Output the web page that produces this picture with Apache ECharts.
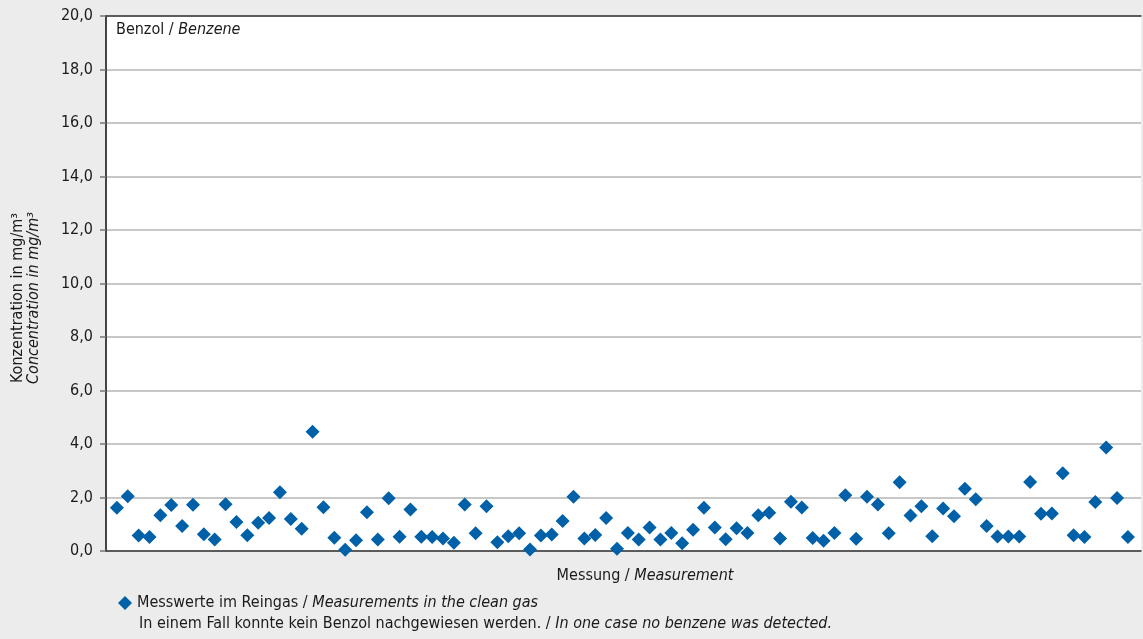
<!DOCTYPE html>
<html lang="de">
<head>
	<meta charset="UTF-8">
	<title>Benzol</title>
	<style>
       html, body { margin: 0; padding: 0; background: #ebeceb; }
       #chart_box { width: 1143px; height: 639px; }
	</style>
	<script type="text/javascript" src="https://cdn.jsdelivr.net/npm/echarts@6/dist/echarts.min.js"></script>
</head>
<body>
	<div id="chart_box"></div>
	<script type="text/javascript">
      var benzene_values = [
        1.62, 2.05, 0.58, 0.52, 1.34, 1.72, 0.93, 1.73, 0.63, 0.43,
        1.75, 1.08, 0.59, 1.06, 1.23, 2.20, 1.20, 0.83, 4.46, 1.64,
        0.50, 0.05, 0.40, 1.45, 0.43, 1.97, 0.53, 1.55, 0.53, 0.52,
        0.47, 0.31, 1.74, 0.66, 1.67, 0.33, 0.55, 0.66, 0.06, 0.58,
        0.62, 1.12, 2.03, 0.47, 0.60, 1.23, 0.08, 0.67, 0.43, 0.88,
        0.43, 0.67, 0.29, 0.79, 1.62, 0.88, 0.44, 0.85, 0.67, 1.34,
        1.43, 0.47, 1.84, 1.63, 0.49, 0.38, 0.67, 2.08, 0.46, 2.03,
        1.74, 0.66, 2.57, 1.33, 1.67, 0.55, 1.59, 1.30, 2.33, 1.93,
        0.93, 0.54, 0.54, 0.54, 2.58, 1.39, 1.40, 2.91, 0.59, 0.52,
        1.83, 3.87, 1.98, 0.52
      ];
      var y_ticks = [0, 2, 4, 6, 8, 10, 12, 14, 16, 18, 20];

      var FONT = '"Liberation Sans Narrow", "DejaVu Sans Condensed", sans-serif';

      var points = [];
      for (var i = 0; i < benzene_values.length; i++) {
        points.push([i + 1, benzene_values[i]]);   // Messung Nr. i+1
      }

      var chart = echarts.init(document.getElementById('chart_box'));
      var option = {
        backgroundColor: '#ebeceb',
        animation: false,
        grid: {
          left: 106, right: 2, top: 16, bottom: 88,
          show: true, backgroundColor: '#ffffff', borderWidth: 0
        },
        xAxis: [
          {
            type: 'value', min: 0, max: 95.2,
            axisLine: { show: true, onZero: false, lineStyle: { color: '#3a3a3a', width: 1.5 } },
            axisTick: { show: false }, axisLabel: { show: false }, splitLine: { show: false }
          },
          {
            type: 'value', position: 'top', min: 0, max: 95.2,
            axisLine: { show: true, onZero: false, lineStyle: { color: '#3a3a3a', width: 1.5 } },
            axisTick: { show: false }, axisLabel: { show: false }, splitLine: { show: false }
          }
        ],
        yAxis: [
          {
            type: 'value', min: y_ticks[0], max: y_ticks[y_ticks.length - 1], interval: 2,
            axisLine: { show: true, lineStyle: { color: '#3a3a3a', width: 1.5 } },
            axisTick: { show: true, length: 6, lineStyle: { color: '#777', width: 1.5 } },
            axisLabel: {
              margin: 13, color: '#1a1a1a', fontFamily: FONT, fontSize: 16,
              formatter: function (v) { return v.toFixed(1).replace('.', ','); }
            },
            splitLine: { show: true, lineStyle: { color: '#b4b4b4', width: 1.5 } }
          },
          {
            type: 'value', position: 'right', min: 0, max: 20,
            axisLine: { show: true, lineStyle: { color: '#3a3a3a', width: 1.5 } },
            axisTick: { show: false }, axisLabel: { show: false }, splitLine: { show: false }
          }
        ],
        legend: {
          left: 113, top: 590,
          icon: 'diamond', itemWidth: 14, itemHeight: 14, itemGap: 6,
          data: ['Messwerte im Reingas'],
          formatter: function () {
            return '{a|Messwerte im Reingas / }{b|Measurements in the clean gas}';
          },
          textStyle: {
            rich: {
              a: { fontFamily: FONT, fontSize: 16, color: '#1a1a1a' },
              b: { fontFamily: FONT, fontSize: 16, color: '#1a1a1a', fontStyle: 'italic' }
            }
          }
        },
        graphic: [
          {
            type: 'text', left: 116, top: 22,
            style: {
              text: '{a|Benzol / }{b|Benzene}',
              rich: {
                a: { fontFamily: FONT, fontSize: 16, fill: '#1a1a1a' },
                b: { fontFamily: FONT, fontSize: 16, fill: '#1a1a1a', fontStyle: 'italic' }
              }
            }
          },
          {
            type: 'text', x: 645, y: 576,
            style: {
              text: '{a|Messung / }{b|Measurement}', align: 'center', verticalAlign: 'middle',
              rich: {
                a: { fontFamily: FONT, fontSize: 16, fill: '#1a1a1a' },
                b: { fontFamily: FONT, fontSize: 16, fill: '#1a1a1a', fontStyle: 'italic' }
              }
            }
          },
          {
            type: 'text', left: 139, top: 616,
            style: {
              text: '{a|In einem Fall konnte kein Benzol nachgewiesen werden. / }{b|In one case no benzene was detected.}',
              rich: {
                a: { fontFamily: FONT, fontSize: 16, fill: '#1a1a1a' },
                b: { fontFamily: FONT, fontSize: 16, fill: '#1a1a1a', fontStyle: 'italic' }
              }
            }
          },
          {
            type: 'text', x: 26, y: 298, rotation: Math.PI / 2,
            style: {
              text: '{a|Konzentration in mg/m³}\n{b|Concentration in mg/m³}',
              align: 'center', verticalAlign: 'middle',
              rich: {
                a: { fontFamily: FONT, fontSize: 16, fill: '#1a1a1a', lineHeight: 16, align: 'center' },
                b: { fontFamily: FONT, fontSize: 16, fill: '#1a1a1a', fontStyle: 'italic', lineHeight: 16, align: 'center' }
              }
            }
          }
        ],
        series: [
          {
            name: 'Messwerte im Reingas',
            type: 'scatter',
            symbol: 'diamond',
            symbolSize: 14,
            itemStyle: { color: '#0060a8', opacity: 1 },
            data: points
          }
        ]
      };
      chart.setOption(option);
	</script>
</body>
</html>
